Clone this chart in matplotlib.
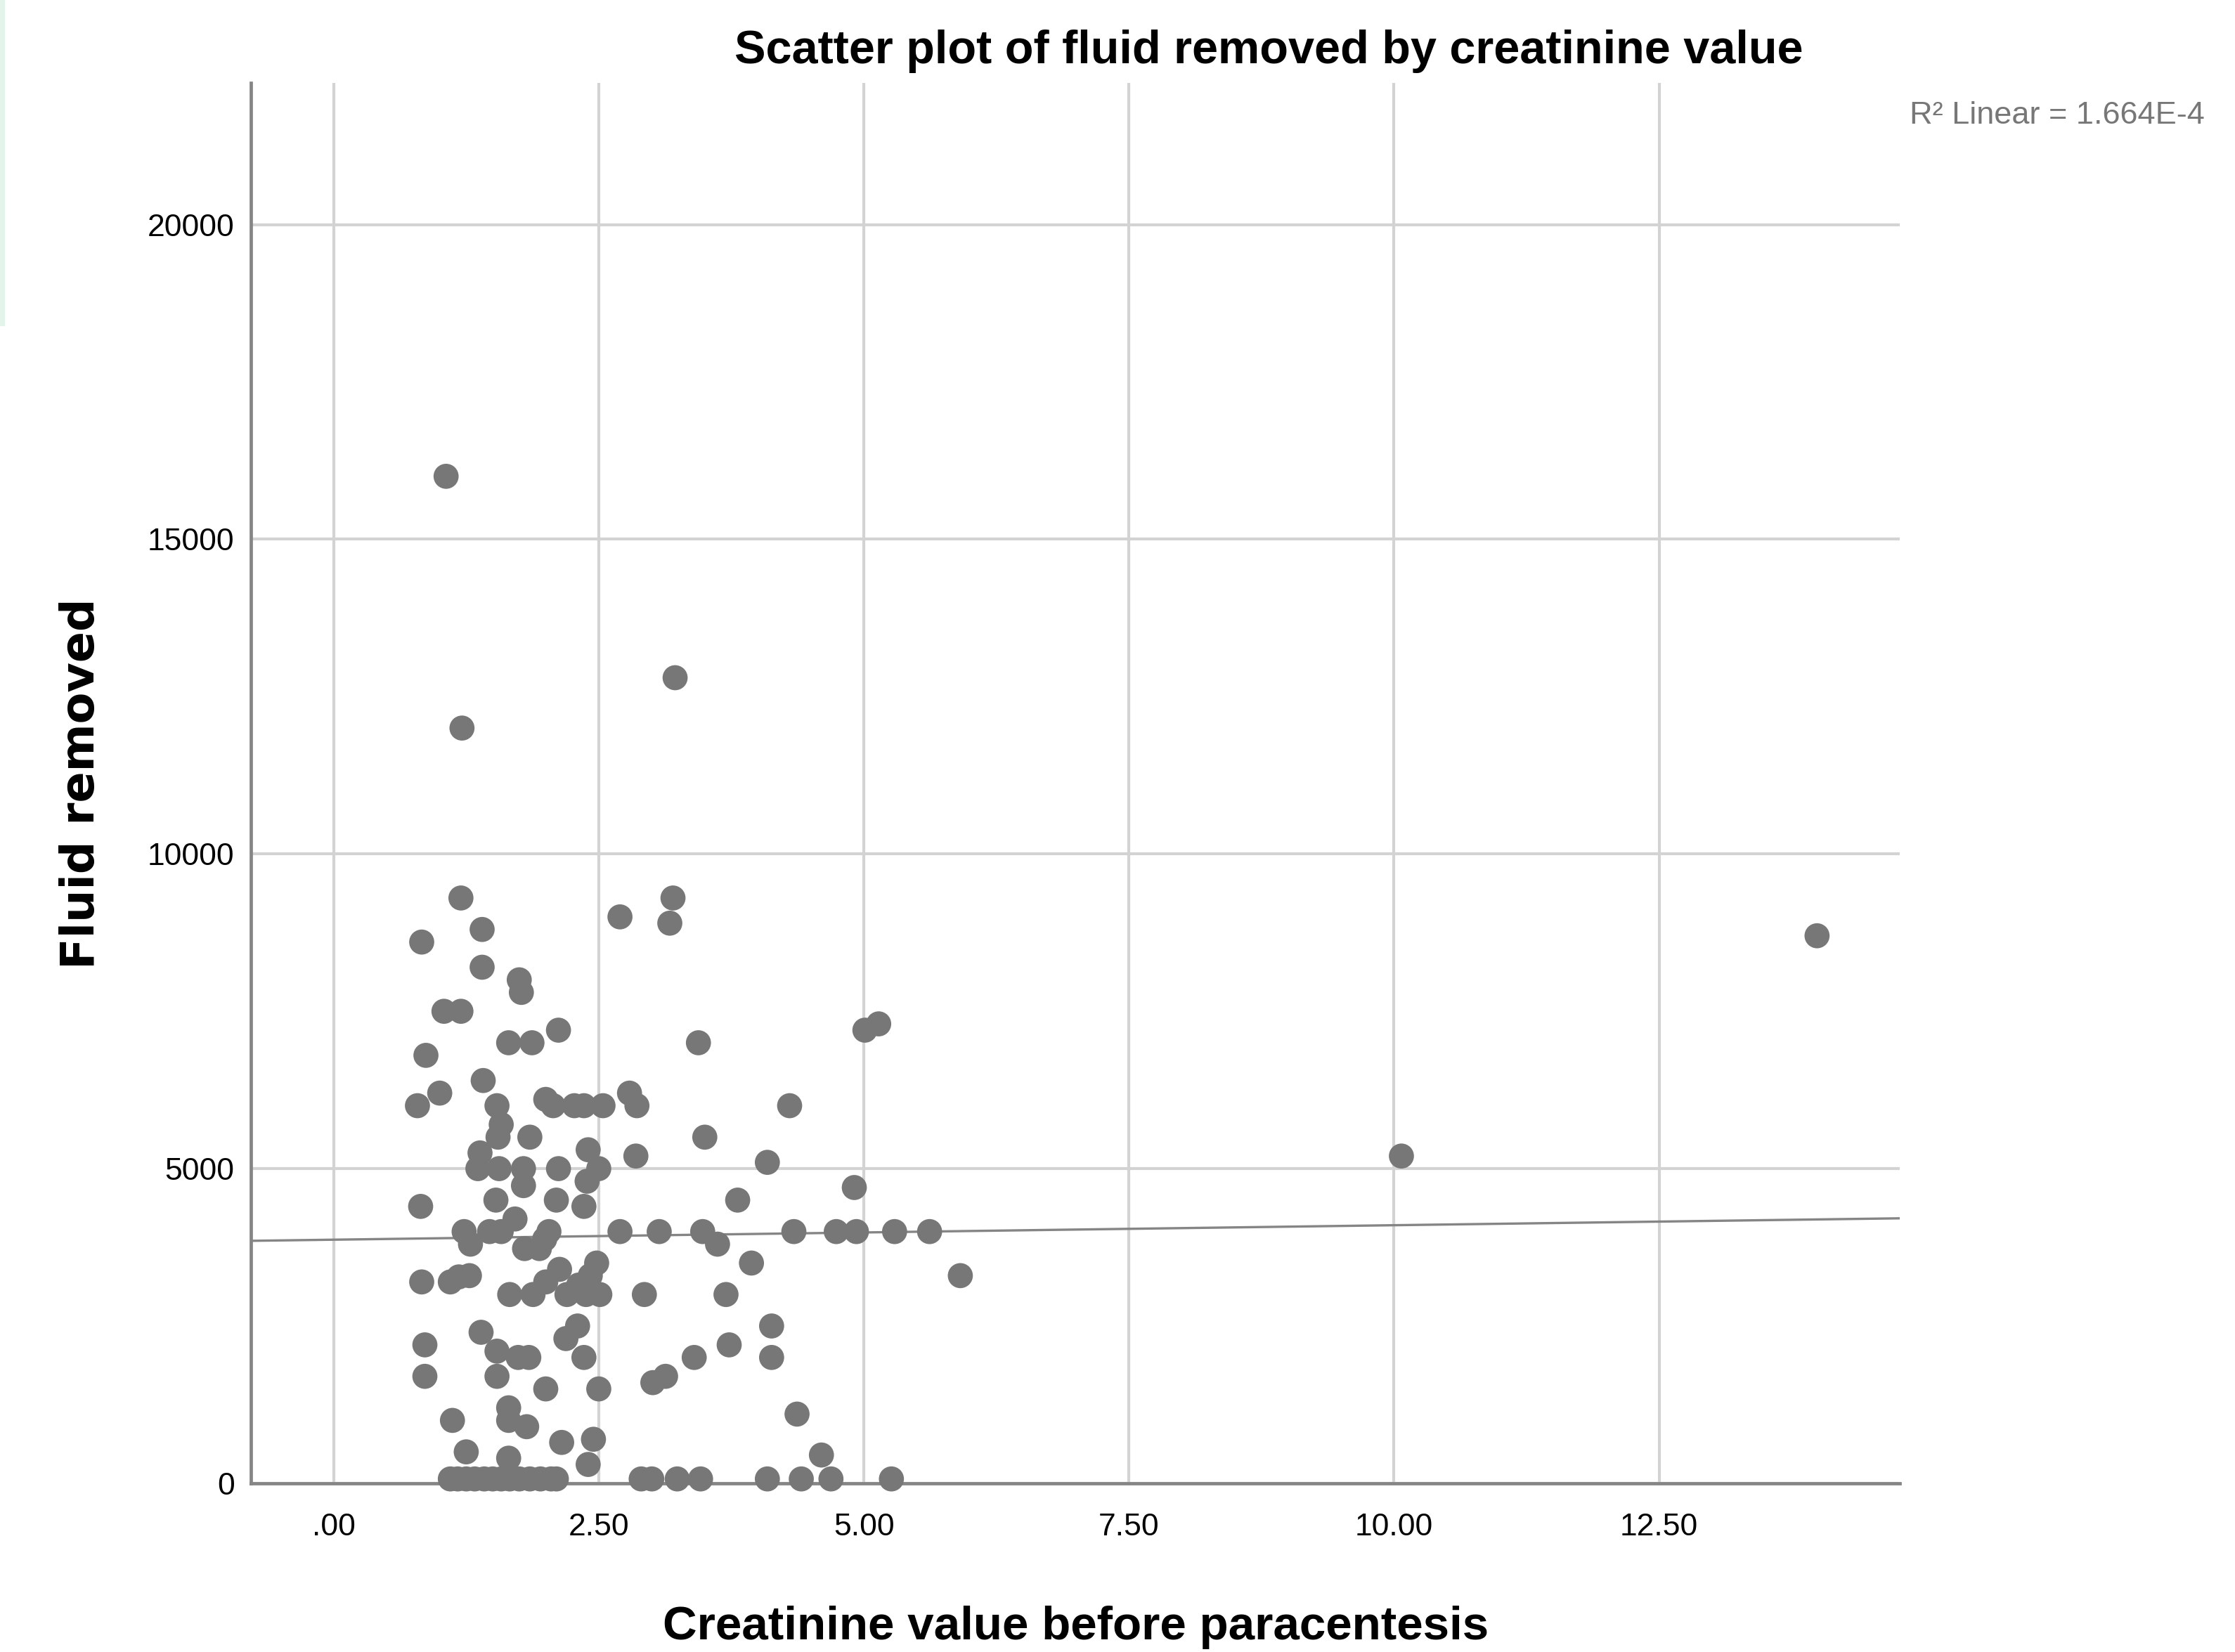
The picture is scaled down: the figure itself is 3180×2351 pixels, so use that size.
import matplotlib
matplotlib.use("Agg")
import matplotlib.pyplot as plt
import numpy as np
from matplotlib.patches import Rectangle

# creatinine (x) vs fluid removed (y)
creatinine = [
    1.06, 1.21, 3.22, 13.99, 10.07,
    1.20, 1.40, 0.83, 1.40, 1.75, 1.77, 1.04, 1.20, 0.87, 1.65, 1.87, 2.12,
    2.70, 3.20, 3.17, 3.44, 1.41, 1.00, 0.79, 1.54, 1.58, 1.55, 1.85, 2.00,
    2.07, 2.27, 2.36, 2.54, 2.79, 2.86, 3.50, 1.38, 1.36, 1.56, 1.79, 1.79,
    2.12, 2.40, 2.50, 2.39, 2.85,
    5.01, 5.14, 4.30, 4.09, 4.91, 3.81, 3.48, 3.62, 4.34, 4.74, 4.93, 5.29,
    5.62, 5.91, 3.94, 3.70, 4.13, 3.73, 4.13, 4.37, 4.60,
    3.46, 4.09, 4.41, 4.69, 5.26,
    0.82, 1.53, 2.10, 2.36, 1.23, 1.29, 1.47, 1.58, 1.71, 1.80, 1.94, 2.03,
    1.99, 2.70, 3.07, 0.83, 1.10, 1.18, 1.28, 1.66, 1.88, 2.00, 2.13, 2.20,
    2.31, 2.48, 2.51, 2.38, 2.42, 2.93, 1.39, 0.86, 1.54, 1.74, 1.84, 2.19,
    2.30, 2.36, 0.86, 1.54, 2.00, 2.50, 3.01, 3.13, 3.40, 1.12, 1.65, 1.65,
    1.82, 2.15, 2.45, 2.40, 1.25, 1.65,
    1.10, 1.17, 1.25, 1.33, 1.42, 1.50, 1.58, 1.66, 1.75, 1.85, 1.95, 2.05,
    2.10, 2.90, 3.00, 3.24,
]
fluid = [
    16000, 12000, 12800, 8700, 5200,
    9300, 8800, 8600, 8200, 8000, 7800, 7500, 7500, 6800, 7000, 7000, 7200,
    9000, 9300, 8900, 7000, 6400, 6200, 6000, 6000, 5700, 5500, 5500, 6100,
    6000, 6000, 6000, 6000, 6200, 6000, 5500, 5250, 5000, 5000, 5000, 4730,
    5000, 5300, 5000, 4800, 5200,
    7200, 7300, 6000, 5100, 4700, 4500, 4000, 3800, 4000, 4000, 4000, 4000,
    4000, 3300, 3500, 3000, 2500, 2200, 2000, 1100, 450,
    70, 70, 70, 70, 70,
    4400, 4500, 4500, 4400, 4000, 3800, 4000, 4000, 4200, 3730, 3730, 4000,
    3880, 4000, 4000, 3200, 3200, 3280, 3300, 3000, 3000, 3200, 3400, 3000,
    3150, 3500, 3000, 3000, 3300, 3000, 2400, 2200, 2100, 2000, 2000, 2300,
    2500, 2000, 1700, 1700, 1500, 1500, 1600, 1700, 2000, 1000, 1200, 1000,
    900, 650, 700, 300, 500, 400,
    70, 70, 70, 70, 70, 70, 70, 70, 70, 70, 70, 70,
    70, 70, 70, 70,
]

# linear fit shown in the chart (R^2 = 1.664E-4)
fit_intercept = 3871
fit_slope = 23.0
r2_text = "R\u00b2 Linear = 1.664E-4"

x_ticks = [0, 2.5, 5, 7.5, 10, 12.5]
x_ticklabels = [".00", "2.50", "5.00", "7.50", "10.00", "12.50"]
y_ticks = [0, 5000, 10000, 15000, 20000]
y_ticklabels = ["0", "5000", "10000", "15000", "20000"]

title = "Scatter plot of fluid removed by creatinine value"
x_label = "Creatinine value before paracentesis"
y_label = "Fluid removed"

SANS = ["Liberation Sans", "DejaVu Sans"]
POINT_COLOR = "#777777"
GRID_COLOR = "#d3d3d3"
AXIS_COLOR = "#858585"

fig = plt.figure(figsize=(31.8, 23.51), dpi=100)
ax = fig.add_axes([0.1123, 0.1021, 0.7377, 0.8477])

xlim = (-0.78, 14.77)
ylim = (0, 22250)
ax.set_xlim(*xlim)
ax.set_ylim(*ylim)

ax.set_xticks(x_ticks)
ax.set_xticklabels(x_ticklabels, family=SANS, fontsize=32)
ax.set_yticks(y_ticks)
ax.set_yticklabels(y_ticklabels, family=SANS, fontsize=32)
ax.tick_params(axis="both", length=0, colors="black")
ax.tick_params(axis="x", pad=30)
ax.tick_params(axis="y", pad=17)

ax.grid(True, color=GRID_COLOR, linewidth=3.0, zorder=0)
ax.set_axisbelow(True)
for side in ["top", "right"]:
    ax.spines[side].set_visible(False)
for side in ["left", "bottom"]:
    ax.spines[side].set_color(AXIS_COLOR)
    ax.spines[side].set_linewidth(3.4)
    ax.spines[side].set_zorder(1)

fx = np.array(xlim)
ax.plot(fx, fit_intercept + fit_slope * fx, color="#858585", linewidth=2.4,
        zorder=2)

ax.scatter(creatinine, fluid, s=660, color=POINT_COLOR, edgecolors="none",
           zorder=3, clip_on=False)

fig.text(0.5676, 0.9690, title, family=SANS, fontweight="bold",
         fontsize=48, ha="center", va="center")
fig.text(0.4814, 0.0150, x_label, family=SANS, fontweight="bold",
         fontsize=48.5, ha="center", va="center")
fig.text(0.0365, 0.5257, y_label, family="DejaVu Sans", fontweight="bold",
         fontsize=47, ha="center", va="center", rotation=90)
fig.text(0.9865, 0.930, r2_text, family=SANS, fontsize=32.5,
         color="#777777", ha="right", va="center")

# thin green strip at the left edge of the screenshot
fig.patches.append(Rectangle((0, 0.803), 0.0019, 0.197,
                             transform=fig.transFigure, color="#e3f5ea",
                             zorder=0))

fig.savefig("out.png", dpi=100, facecolor="white")
